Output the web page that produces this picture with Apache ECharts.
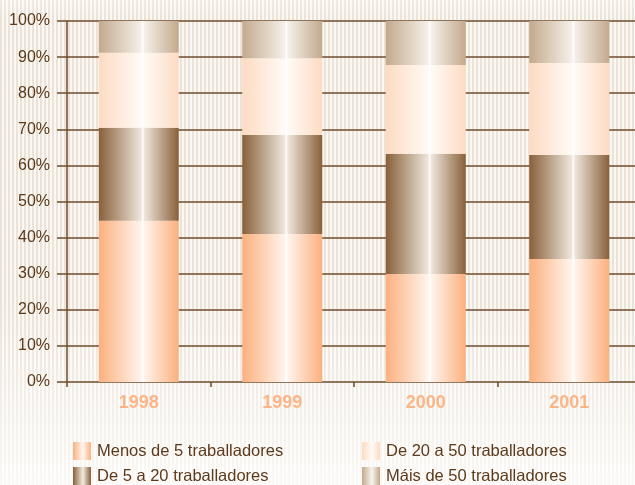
<!DOCTYPE html>
<html lang="gl">
<head>
<meta charset="UTF-8">
<title>Empresas segundo tamaño</title>
<style>
    html, body { margin: 0; padding: 0; overflow: hidden; }
    #main {
        width: 641px; height: 485px;
        background:
            linear-gradient(to bottom, rgba(255,255,255,0.25) 0px, rgba(255,255,255,0) 20px, rgba(255,255,255,0) 300px, rgba(255,255,255,0.75) 485px),
            repeating-linear-gradient(90deg, #ebe3d8 0px, #ebe3d8 2px, #fbf8f4 2px, #fbf8f4 4px);
    }
</style>
<script src="https://cdn.jsdelivr.net/npm/echarts@6/dist/echarts.min.js"></script>
</head>
<body>
<div id="main"></div>
<script type="text/javascript">
    var anos = ['1998', '1999', '2000', '2001'];
    var ticksY = [0, 10, 20, 30, 40, 50, 60, 70, 80, 90, 100];
    // porcentaxes
    var menos5 = [44.7, 41.0, 29.9, 34.1];
    var de5a20 = [25.7, 27.4, 33.3, 28.8];
    var de20a50 = [20.8, 21.3, 24.6, 25.5];
    var mais50 = [8.8, 10.3, 12.2, 11.6];
    var nomes = ['Menos de 5 traballadores', 'De 5 a 20 traballadores',
                 'De 20 a 50 traballadores', 'Máis de 50 traballadores'];

    var castano = '#5c3a1c';
    var liña = '#6e4c2e';

    function degradado(borde, claro) {
        return new echarts.graphic.LinearGradient(0, 0, 1, 0, [
            {offset: 0, color: borde},
            {offset: 0.53, color: claro},
            {offset: 0.55, color: '#ffffff'},
            {offset: 0.57, color: claro},
            {offset: 1, color: borde}
        ]);
    }

    var myChart = echarts.init(document.getElementById('main'), null, {renderer: 'canvas'});

    function serie(nome, datos, borde, claro) {
        return {
            name: nome,
            type: 'bar',
            stack: 'total',
            xAxisIndex: 1,
            yAxisIndex: 1,
            barWidth: 80,
            itemStyle: {color: degradado(borde, claro)},
            data: datos
        };
    }

    // unha lenda por elemento, para colocalas en dúas columnas
    function lenda(nome, x, y) {
        return {
            data: [nome],
            left: x, top: y, padding: 0,
            itemWidth: 18, itemHeight: 18,
            icon: 'rect',
            textStyle: {color: castano, fontSize: 16.5, padding: [0, 0, 0, 1]}
        };
    }

    var option = {
        backgroundColor: 'transparent',
        animation: false,
        textStyle: {fontFamily: 'Liberation Sans, Arial, sans-serif'},
        grid: [
            {left: 57, right: 0, top: 21, bottom: 103},
            {left: 67, right: 0, top: 21, bottom: 103}
        ],
        xAxis: [
            {gridIndex: 0, type: 'value', show: false},
            {
                gridIndex: 1, type: 'category', data: anos,
                axisLine: {show: false},
                axisTick: {show: true, length: 5, lineStyle: {color: liña, width: 1.5}},
                axisLabel: {color: '#fbb587', fontSize: 18, fontWeight: 'bold', margin: 12}
            }
        ],
        yAxis: [
            {
                gridIndex: 0, type: 'value', min: 0, max: 100, interval: 10,
                axisLine: {show: false},
                axisTick: {show: false},
                axisLabel: {
                    color: castano, fontSize: 16, margin: 7,
                    formatter: function (v) { return ticksY.indexOf(v) >= 0 ? v + '%' : ''; }
                },
                splitLine: {show: true, lineStyle: {color: liña, width: 1.5}}
            },
            {
                gridIndex: 1, type: 'value', min: 0, max: 100, interval: 10,
                axisLine: {show: true, lineStyle: {color: liña, width: 1.5}},
                axisTick: {show: false},
                axisLabel: {show: false},
                splitLine: {show: false}
            }
        ],
        legend: [
            lenda(nomes[0], 73, 442),
            lenda(nomes[1], 73, 467),
            lenda(nomes[2], 362, 442),
            lenda(nomes[3], 362, 467)
        ],
        series: [
            serie(nomes[0], menos5, '#fbb07e', '#fff4ec'),
            serie(nomes[1], de5a20, '#88603a', '#efe6dc'),
            serie(nomes[2], de20a50, '#fddbc2', '#fffaf6'),
            serie(nomes[3], mais50, '#c3a98c', '#f5f0ea')
        ]
    };
    myChart.setOption(option);
</script>
</body>
</html>
